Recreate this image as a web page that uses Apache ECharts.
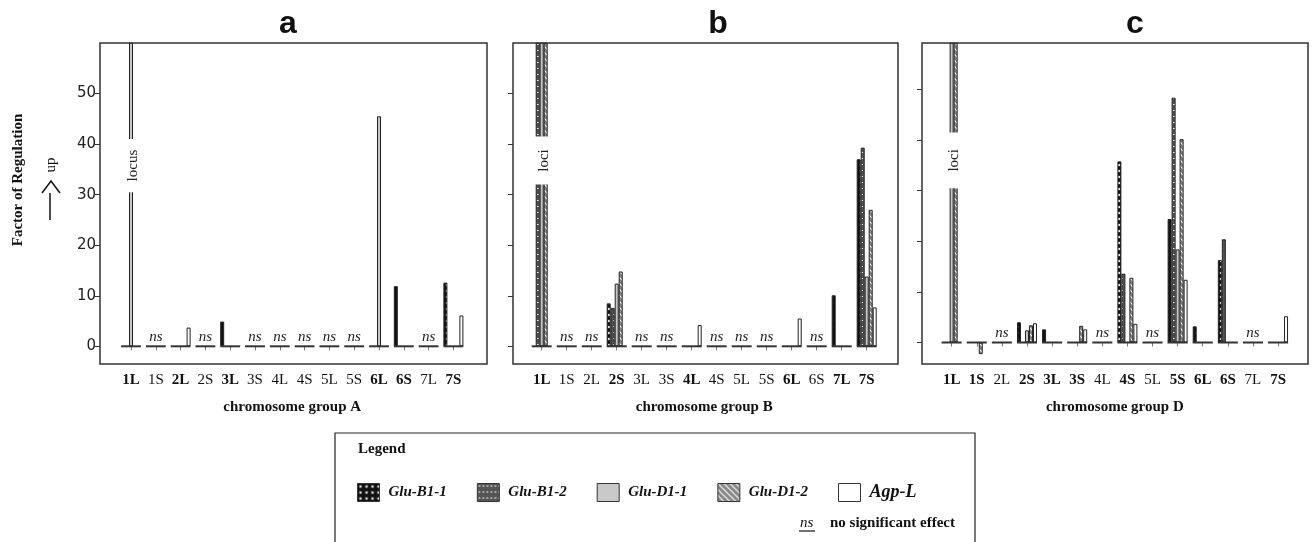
<!DOCTYPE html>
<html>
<head>
<meta charset="utf-8">
<script src="https://cdn.jsdelivr.net/npm/echarts@6/dist/echarts.min.js"></script>
<style>
  html, body { margin: 0; padding: 0; background: #fff; }
  #chart { width: 1312px; height: 542px; }
</style>
</head>
<body>
<div id="chart"></div>
<script>
// chromosome arms, same for all three groups
var cats = ['1L', '1S', '2L', '2S', '3L', '3S', '4L', '4S', '5L', '5S', '6L', '6S', '7L', '7S'];
var seriesNames = ['Glu-B1-1', 'Glu-B1-2', 'Glu-D1-1', 'Glu-D1-2', 'Agp-L'];
var yTicks = [0, 10, 20, 30, 40, 50];

// group A (values above 60 run off the top, marked "locus")
var aGluB11 = [null, null, null, null, 4.9, null, null, null, null, null, null, 11.9, null, 12.6];
var aGluB12 = [null, null, null, null, null, null, null, null, null, null, null, null, null, null];
var aGluD11 = [80, null, null, null, null, null, null, null, null, null, 45.5, null, null, null];
var aGluD12 = [null, null, null, null, null, null, null, null, null, null, null, null, null, null];
var aAgpL = [null, null, 3.7, null, null, null, null, null, null, null, null, null, null, 6.1];
var aNs = [0, 1, 0, 1, 0, 1, 1, 1, 1, 1, 0, 0, 1, 0];

// group B
var bGluB11 = [null, null, null, 8.5, null, null, null, null, null, null, null, null, 10.1, 37.0];
var bGluB12 = [80, null, null, 7.6, null, null, null, null, null, null, null, null, null, 39.3];
var bGluD11 = [80, null, null, 12.4, null, null, null, null, null, null, null, null, null, 13.8];
var bGluD12 = [80, null, null, 14.8, null, null, null, null, null, null, null, null, null, 27.0];
var bAgpL = [null, null, null, null, null, null, 4.2, null, null, null, 5.5, null, null, 7.7];
var bNs = [0, 1, 1, 0, 1, 1, 0, 1, 1, 1, 0, 1, 0, 0];

// group D
var cGluB11 = [null, null, null, 4.0, 2.6, null, null, 35.8, null, 24.4, 3.2, 16.3, null, null];
var cGluB12 = [null, null, null, null, null, null, null, 13.6, null, 48.4, null, 20.4, null, null];
var cGluD11 = [80, null, null, 2.4, null, null, null, null, null, 18.4, null, null, null, null];
var cGluD12 = [80, -2.3, null, 3.4, null, 3.3, null, 12.8, null, 40.2, null, null, null, null];
var cAgpL = [null, null, null, 3.8, null, 2.6, null, 3.7, null, 12.4, null, null, null, 5.2];
var cNs = [0, 0, 1, 0, 0, 0, 1, 0, 1, 0, 0, 0, 1, 0];

// broken bars: label and the value range that is left blank
var breakText = ['locus', 'loci', 'loci'];
var breakFrom = [30.5, 32, 30.5];
var breakTo = [41, 41.5, 41.5];

var SERIF = "'Liberation Serif', 'DejaVu Serif', serif";
var SANS = "'Liberation Sans', Arial, sans-serif";

function pattern(w, h, draw) {
  var cv = document.createElement('canvas');
  cv.width = w;
  cv.height = h;
  draw(cv.getContext('2d'));
  return { image: cv, repeat: 'repeat' };
}

var fills = [
  pattern(6, 6, function (ctx) {
    ctx.fillStyle = '#111';
    ctx.fillRect(0, 0, 6, 6);
    ctx.fillStyle = '#fff';
    ctx.beginPath();
    ctx.moveTo(3, 1.5); ctx.lineTo(4.5, 3); ctx.lineTo(3, 4.5); ctx.lineTo(1.5, 3);
    ctx.closePath();
    ctx.fill();
  }),
  pattern(4, 6, function (ctx) {
    ctx.fillStyle = '#555';
    ctx.fillRect(0, 0, 4, 6);
    ctx.fillStyle = '#eee';
    ctx.fillRect(1, 2, 2, 1);
  }),
  '#c9c9c9',
  pattern(6, 6, function (ctx) {
    ctx.fillStyle = '#858585';
    ctx.fillRect(0, 0, 6, 6);
    ctx.strokeStyle = '#fff';
    ctx.lineWidth = 1.2;
    ctx.beginPath();
    ctx.moveTo(-1, -1); ctx.lineTo(7, 7);
    ctx.moveTo(-4, 2); ctx.lineTo(4, 10);
    ctx.moveTo(2, -4); ctx.lineTo(10, 4);
    ctx.stroke();
  }),
  '#fff'
];

var panels = [
  { data: [aGluB11, aGluB12, aGluD11, aGluD12, aAgpL], ns: aNs, name: 'chromosome group A',
    title: 'a', titleX: 283, frame: [100, 43, 387, 321], left: 118.6, width: 347.2, min: -3.5, max: 60, labels: true },
  { data: [bGluB11, bGluB12, bGluD11, bGluD12, bAgpL], ns: bNs, name: 'chromosome group B',
    title: 'b', titleX: 713, frame: [513, 43, 385, 321], left: 529.2, width: 350, min: -3.5, max: 60, labels: false },
  { data: [cGluB11, cGluB12, cGluD11, cGluD12, cAgpL], ns: cNs, name: 'chromosome group D',
    title: 'c', titleX: 1130, frame: [922, 43, 386, 321], left: 939.1, width: 351.5, min: -4.25, max: 59.2, labels: false }
];

var grid = [], xAxis = [], yAxis = [], series = [], title = [], graphic = [];

panels.forEach(function (p, k) {
  grid.push({ left: p.left, top: 43, width: p.width, height: 321 });
  title.push({
    text: p.title, left: p.titleX, top: 3, textAlign: 'center',
    textStyle: { fontFamily: SANS, fontSize: 32, fontWeight: 'bold', color: '#111' }
  });
  graphic.push({
    type: 'rect', silent: true, z: 10,
    shape: { x: p.frame[0], y: p.frame[1], width: p.frame[2], height: p.frame[3] },
    style: { fill: 'none', stroke: '#333', lineWidth: 1.5 }
  });
  var ns = p.ns;
  xAxis.push({
    gridIndex: k, type: 'category', data: cats,
    axisLine: { show: false },
    axisTick: { show: true, alignWithLabel: true, length: 4, lineStyle: { color: '#777' } },
    axisLabel: {
      interval: 0, margin: 9, fontFamily: SERIF, fontSize: 15, color: '#111',
      formatter: function (v, i) { return ns[i] ? '{n|' + v + '}' : '{b|' + v + '}'; },
      rich: {
        n: { fontFamily: SERIF, fontSize: 15, color: '#111' },
        b: { fontFamily: SERIF, fontSize: 15, fontWeight: 'bold', color: '#111' }
      }
    },
    name: p.name, nameLocation: 'middle', nameGap: 36,
    nameTextStyle: { fontFamily: SERIF, fontSize: 15, fontWeight: 'bold', color: '#111' }
  });
  yAxis.push({
    gridIndex: k, type: 'value', min: p.min, max: p.max,
    offset: p.left - p.frame[0],
    axisLine: { show: false },
    splitLine: { show: false },
    axisTick: { show: true, length: 5, customValues: yTicks, lineStyle: { color: '#333' } },
    axisLabel: {
      show: p.labels, customValues: yTicks, margin: 4,
      fontFamily: "'DejaVu Sans', sans-serif", fontSize: 15, color: '#222'
    }
  });
  p.data.forEach(function (vals, s) {
    series.push({
      type: 'bar', name: seriesNames[s], xAxisIndex: k, yAxisIndex: k,
      data: vals, barWidth: 4, barGap: '0%', clip: true,
      itemStyle: { color: fills[s], borderColor: '#222', borderWidth: 1 },
      animation: false
    });
  });
  // zero line per chromosome arm, with "ns" over it
  series.push({
    type: 'custom', xAxisIndex: k, yAxisIndex: k, z: 4, silent: true, animation: false,
    data: cats.map(function (c, i) { return [i, ns[i]]; }),
    renderItem: function (params, api) {
      var pt = api.coord([api.value(0), 0]);
      var w = api.size([1, 0])[0];
      var kids = [{
        type: 'line',
        shape: { x1: pt[0] - w * 0.4, y1: pt[1], x2: pt[0] + w * 0.4, y2: pt[1] },
        style: { stroke: '#333', lineWidth: 2 }
      }];
      if (api.value(1)) {
        kids.push({
          type: 'text', x: pt[0], y: pt[1] - 2,
          style: { text: 'ns', textAlign: 'center', textVerticalAlign: 'bottom',
            font: 'italic 15px ' + SERIF, fill: '#222' }
        });
      }
      return { type: 'group', children: kids };
    }
  });
  // gap in the bars that run off the top
  series.push({
    type: 'custom', xAxisIndex: k, yAxisIndex: k, z: 5, silent: true, animation: false,
    data: [[0, breakFrom[k], breakTo[k]]],
    renderItem: function (params, api) {
      var lo = api.coord([api.value(0), api.value(1)]);
      var hi = api.coord([api.value(0), api.value(2)]);
      var w = api.size([1, 0])[0];
      return {
        type: 'group', children: [{
          type: 'rect',
          shape: { x: lo[0] - w * 0.45, y: hi[1], width: w * 0.9, height: lo[1] - hi[1] },
          style: { fill: '#fff' }
        }, {
          type: 'text', x: lo[0] + 2, y: (lo[1] + hi[1]) / 2, rotation: Math.PI / 2,
          style: { text: breakText[k], textAlign: 'center', textVerticalAlign: 'middle',
            font: '15px ' + SERIF, fill: '#222' }
        }]
      };
    }
  });
});

// figure-level y title and arrow
graphic.push(
  { type: 'text', x: 18, y: 180, rotation: Math.PI / 2, silent: true,
    style: { text: 'Factor of Regulation', textAlign: 'center', textVerticalAlign: 'middle',
      font: 'bold 15px ' + SERIF, fill: '#111' } },
  { type: 'text', x: 51, y: 165, rotation: Math.PI / 2, silent: true,
    style: { text: 'up', textAlign: 'center', textVerticalAlign: 'middle',
      font: '15px ' + SERIF, fill: '#111' } },
  { type: 'polyline', silent: true, shape: { points: [[42, 193], [51, 181], [60, 193]] },
    style: { stroke: '#111', lineWidth: 1.5, fill: 'none' } },
  { type: 'line', silent: true, shape: { x1: 50, y1: 193, x2: 50, y2: 220 },
    style: { stroke: '#111', lineWidth: 1.5 } }
);

// legend box
graphic.push(
  { type: 'rect', silent: true, shape: { x: 335, y: 433, width: 640, height: 130 },
    style: { fill: 'none', stroke: '#222', lineWidth: 1.2 } },
  { type: 'text', x: 358, y: 449, silent: true,
    style: { text: 'Legend', textVerticalAlign: 'middle', font: 'bold 15px ' + SERIF, fill: '#111' } },
  { type: 'text', x: 800, y: 523, silent: true,
    style: { text: 'ns', textVerticalAlign: 'middle', font: 'italic 15px ' + SERIF, fill: '#111' } },
  { type: 'line', silent: true, shape: { x1: 799, y1: 531, x2: 815, y2: 531 },
    style: { stroke: '#111', lineWidth: 1.2 } },
  { type: 'text', x: 830, y: 523, silent: true,
    style: { text: 'no significant effect', textVerticalAlign: 'middle', font: 'bold 15px ' + SERIF, fill: '#111' } }
);

var chart = echarts.init(document.getElementById('chart'), null, { renderer: 'canvas' });
chart.setOption({
  backgroundColor: '#fff',
  animation: false,
  title: title,
  grid: grid,
  xAxis: xAxis,
  yAxis: yAxis,
  legend: {
    data: seriesNames, left: 352, top: 478, selectedMode: false,
    icon: 'rect', itemWidth: 22, itemHeight: 18, itemGap: 30,
    itemStyle: { borderColor: '#333', borderWidth: 1 },
    textStyle: {
      fontFamily: SERIF, fontSize: 15, fontStyle: 'italic', fontWeight: 'bold', color: '#111',
      padding: [0, 0, 0, 4],
      rich: {
        big: { fontFamily: SERIF, fontSize: 18, fontStyle: 'italic', fontWeight: 'bold', color: '#111' }
      }
    },
    formatter: function (n) { return n === 'Agp-L' ? '{big|' + n + '}' : n; }
  },
  graphic: graphic,
  series: series
});
</script>
</body>
</html>
